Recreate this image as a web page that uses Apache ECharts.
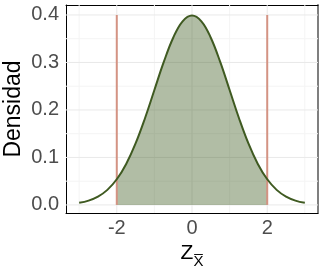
<!DOCTYPE html>
<html><head><meta charset="utf-8">
<script src="https://cdn.jsdelivr.net/npm/echarts@6/dist/echarts.min.js"></script>
<style>html,body{margin:0;padding:0;background:#fff}#c{width:324px;height:273px}</style>
</head><body><div id="c"></div>
<script>
// Data (standard normal density curve)
const zValues = [-3, -2.75, -2.5, -2.25, -2, -1.75, -1.5, -1.25, -1, -0.75, -0.5, -0.25, 0,
                 0.25, 0.5, 0.75, 1, 1.25, 1.5, 1.75, 2, 2.25, 2.5, 2.75, 3];
const density = [0.0044, 0.0091, 0.0175, 0.0317, 0.0540, 0.0863, 0.1295, 0.1826, 0.2420, 0.3011, 0.3521, 0.3867, 0.3989,
                 0.3867, 0.3521, 0.3011, 0.2420, 0.1826, 0.1295, 0.0863, 0.0540, 0.0317, 0.0175, 0.0091, 0.0044];
const criticalZ = [-2, 2];
const criticalTop = 0.4;
const xTickLabels = [-2, 0, 2];
const yTickLabels = [0, 0.1, 0.2, 0.3, 0.4];
const xMinorGrid = [-3, -1, 1, 3];
const yMinorGrid = [0.05, 0.15, 0.25, 0.35];
const yTitle = 'Densidad';

const FONT = 'Liberation Sans';
const X_MIN = -3.35, X_MAX = 3.35, Y_MIN = -0.017, Y_MAX = 0.421;
const curve = zValues.map((z, i) => [z, density[i]]);
const shaded = curve.filter(p => p[0] >= criticalZ[0] && p[0] <= criticalZ[1]);

const series = [];
function gridSeries(vals, isX, color) {
  vals.forEach(v => series.push({
    type: 'line', silent: true, showSymbol: false, z: 0, animation: false,
    data: isX ? [[v, Y_MIN], [v, Y_MAX]] : [[X_MIN, v], [X_MAX, v]],
    lineStyle: {color: color, width: 1}
  }));
}
gridSeries(xMinorGrid, true, '#f4f4f4');
gridSeries(yMinorGrid, false, '#f4f4f4');
gridSeries(xTickLabels, true, '#e9e9e9');
gridSeries(yTickLabels, false, '#e9e9e9');

series.push({type: 'line', data: shaded, smooth: 0.4, showSymbol: false, z: 2,
  lineStyle: {width: 0}, areaStyle: {color: 'rgba(61,90,30,0.40)', origin: 0, opacity: 1}});
criticalZ.forEach(z => series.push({type: 'line', data: [[z, 0], [z, criticalTop]], showSymbol: false, z: 3,
  lineStyle: {color: '#d49383', width: 2}}));
series.push({type: 'line', data: curve, smooth: 0.4, showSymbol: false, z: 4,
  lineStyle: {color: '#3f5a21', width: 2}});

const chart = echarts.init(document.getElementById('c'), null, {renderer: 'canvas'});
chart.setOption({
  animation: false,
  backgroundColor: '#fff',
  grid: {left: 66, right: 6, top: 5, bottom: 60, containLabel: false, outerBoundsMode: 'none'},
  graphic: [{
    type: 'text', x: 14, y: 109, rotation: Math.PI / 2, silent: true,
    style: {text: yTitle, fontSize: 23, fontFamily: FONT, fill: '#000',
      textAlign: 'center', textVerticalAlign: 'middle', align: 'center', verticalAlign: 'middle'}
  }],
  xAxis: [{
    type: 'value', min: X_MIN, max: X_MAX, position: 'bottom',
    axisLine: {show: true, onZero: false, lineStyle: {color: '#000', width: 1}},
    axisTick: {show: false}, splitLine: {show: false},
    axisLabel: {customValues: xTickLabels, fontSize: 20, color: '#4d4d4d', fontFamily: FONT, margin: 5,
      formatter: v => String(v)},
    name: '{z|Z}{s|X\u0305}', nameLocation: 'middle', nameGap: 30,
    nameTextStyle: {fontFamily: FONT, color: '#000',
      rich: {z: {fontSize: 21, fontFamily: FONT, color: '#000', lineHeight: 26, verticalAlign: 'bottom', padding: [0, 0, 5, 0]},
             s: {fontSize: 15, fontFamily: FONT, color: '#000', lineHeight: 26, verticalAlign: 'bottom'}}}
  }, {
    type: 'value', min: X_MIN, max: X_MAX, position: 'top',
    axisLine: {show: true, onZero: false, lineStyle: {color: '#000', width: 1}},
    axisTick: {show: false}, axisLabel: {show: false}, splitLine: {show: false}
  }],
  yAxis: [{
    type: 'value', min: Y_MIN, max: Y_MAX, position: 'left',
    axisLine: {show: true, onZero: false, lineStyle: {color: '#000', width: 1}},
    axisTick: {show: false}, splitLine: {show: false},
    axisLabel: {customValues: yTickLabels, fontSize: 20, color: '#4d4d4d', fontFamily: FONT, margin: 7,
      formatter: v => v.toFixed(1)}
  }, {
    type: 'value', min: Y_MIN, max: Y_MAX, position: 'right',
    axisLine: {show: true, onZero: false, lineStyle: {color: '#7f7f7f', width: 2}},
    axisTick: {show: false}, axisLabel: {show: false}, splitLine: {show: false}
  }],
  series: series
});
</script></body></html>
